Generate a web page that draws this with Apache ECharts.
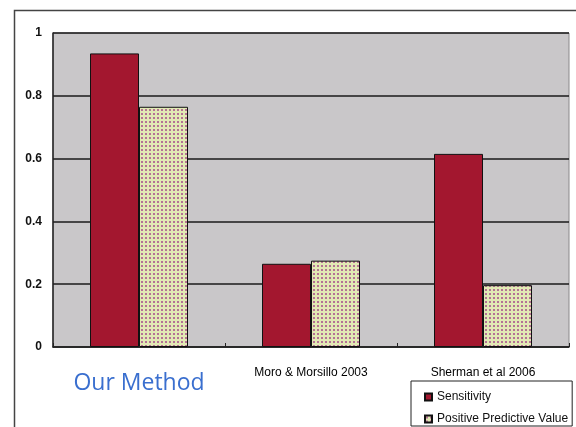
<!DOCTYPE html>
<html>
<head>
<meta charset="utf-8">
<script src="https://cdn.jsdelivr.net/npm/echarts@6/dist/echarts.min.js"></script>
<style>
  html, body { margin: 0; padding: 0; background: #fff; }
  #chart { width: 576px; height: 427px; }
</style>
</head>
<body>
<div id="chart"></div>
<script>
// 数据
var categories = ['Our Method', 'Moro & Morsillo 2003', 'Sherman et al 2006'];
var sensitivity = [0.935, 0.265, 0.615];
var ppv = [0.765, 0.275, 0.197];
var yTicks = { min: 0, max: 1, interval: 0.2 };

(function() {
    var myChart = echarts.init(document.getElementById('chart'));

    // 点状填充（Positive Predictive Value）
    var tile = document.createElement('canvas');
    tile.width = 4;
    tile.height = 4;
    var ctx = tile.getContext('2d');
    ctx.fillStyle = '#e2e9b4';
    ctx.fillRect(0, 0, 4, 4);
    ctx.fillStyle = '#b47294';
    ctx.fillRect(1, 1, 2, 2);
    var dotPattern = { image: tile, repeat: 'repeat' };

    var option = {
        backgroundColor: '#fff',
        animation: false,
        graphic: [{
            type: 'polyline',
            shape: { points: [[14.5, 440], [14.5, 10.5], [580, 10.5]] },
            style: { stroke: '#444', lineWidth: 1.5, fill: null },
            silent: true
        }],
        legend: {
            orient: 'vertical',
            left: 411,
            top: 381,
            data: ['Sensitivity', 'Positive Predictive Value'],
            borderColor: '#222',
            borderWidth: 1,
            padding: [10, 4, 1, 13],
            itemWidth: 7,
            itemHeight: 7,
            itemGap: 10,
            icon: 'rect',
            textStyle: {
                fontFamily: 'Liberation Sans',
                fontSize: 12,
                color: '#111'
            }
        },
        grid: {
            left: 53,
            right: 7,
            top: 33,
            bottom: 80,
            show: true,
            backgroundColor: '#c9c7c9',
            borderColor: '#8a888a',
            borderWidth: 1
        },
        xAxis: {
            type: 'category',
            data: categories,
            axisLine: { show: true, lineStyle: { color: '#222', width: 1.5 } },
            axisTick: { show: true, inside: true, length: 4, lineStyle: { color: '#222' } },
            axisLabel: {
                margin: 20,
                interval: 0,
                formatter: function(value) {
                    if (value === 'Our Method') {
                        return '{big|' + value + '}';
                    }
                    return '{small|' + value + '}';
                },
                rich: {
                    big: {
                        fontFamily: 'Open Sans',
                        fontSize: 23,
                        color: '#3a6fcf',
                        padding: [5, 0, 0, 0]
                    },
                    small: {
                        fontFamily: 'Liberation Sans',
                        fontSize: 12,
                        color: '#000'
                    }
                }
            }
        },
        yAxis: {
            type: 'value',
            min: yTicks.min,
            max: yTicks.max,
            interval: yTicks.interval,
            axisLine: { show: true, lineStyle: { color: '#222', width: 1.5 } },
            axisTick: { show: false },
            splitLine: { show: true, lineStyle: { color: '#1a1a1a', width: 1.5 } },
            axisLabel: {
                margin: 11,
                fontFamily: 'Liberation Sans',
                fontSize: 12,
                fontWeight: 'bold',
                color: '#111'
            }
        },
        series: [{
                name: 'Sensitivity',
                type: 'bar',
                data: sensitivity,
                barWidth: 49,
                barGap: '0%',
                itemStyle: {
                    color: '#a3172f',
                    borderColor: '#111',
                    borderWidth: 1
                }
            },
            {
                name: 'Positive Predictive Value',
                type: 'bar',
                data: ppv,
                barWidth: 49,
                barGap: '0%',
                itemStyle: {
                    color: dotPattern,
                    borderColor: '#111',
                    borderWidth: 1
                }
            }
        ]
    };

    myChart.setOption(option);
})();
</script>
</body>
</html>
